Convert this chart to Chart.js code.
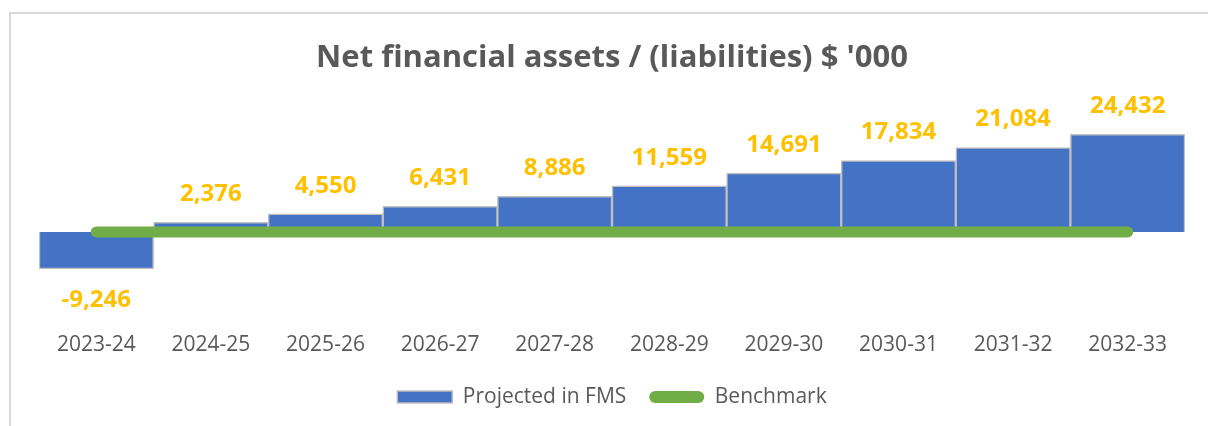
<!DOCTYPE html>
<html>
<head>
<meta charset="utf-8">
<script src="https://cdn.jsdelivr.net/npm/chart.js@4"></script>
<style>
  html, body { margin: 0; padding: 0; background: #fff; }
  #wrap { position: relative; width: 1208px; height: 426px; overflow: hidden; }
  #frame { position: absolute; left: 9px; top: 12px; width: 1300px; height: 500px; border: 2px solid #d9d9d9; pointer-events: none; }
</style>
</head>
<body>
<div id="wrap">
  <canvas id="myChart" width="1208" height="426"></canvas>
  <div id="frame"></div>
</div>
<script>
const years = ["2023-24", "2024-25", "2025-26", "2026-27", "2027-28", "2028-29", "2029-30", "2030-31", "2031-32", "2032-33"];
const projected = [-9246, 2376, 4550, 6431, 8886, 11559, 14691, 17834, 21084, 24432];
const benchmark = [0, 0, 0, 0, 0, 0, 0, 0, 0, 0];

const greyText = "#595959";
const gold = "#FFC000";

// value labels above / below the bars
const barLabels = {
  id: "barLabels",
  afterDatasetsDraw(chart) {
    const ctx = chart.ctx;
    const meta = chart.getDatasetMeta(0);
    ctx.save();
    ctx.font = "bold 24px 'Open Sans'";
    ctx.fillStyle = gold;
    ctx.textAlign = "center";
    ctx.textBaseline = "middle";
    meta.data.forEach((bar, i) => {
      const v = projected[i];
      const y = v < 0 ? bar.y + 31 : bar.y - 28;
      ctx.fillText(v.toLocaleString("en-US"), bar.x, y);
    });
    ctx.restore();
  }
};

const ctx = document.getElementById("myChart").getContext("2d");
const chart = new Chart(ctx, {
  type: "bar",
  data: {
    labels: years,
    datasets: [
      {
        label: "Projected in FMS",
        data: projected,
        backgroundColor: "#4472C4",
        borderColor: "#BFBFBF",
        borderWidth: 1.5,
        categoryPercentage: 1,
        barPercentage: 1,
        order: 1,
      },
      {
        type: "line",
        label: "Benchmark",
        data: benchmark,
        borderColor: "#70AD47",
        backgroundColor: "#70AD47",
        borderWidth: 11,
        borderCapStyle: "round",
        pointRadius: 0,
        order: 0, // draw on top of the bars
      },
    ],
  },
  options: {
    responsive: false,
    animation: false,
    layout: { padding: { left: 39, right: 23, top: 20, bottom: 8.5 } },
    plugins: {
      title: {
        display: true,
        text: "Net financial assets / (liabilities) $ '000",
        color: greyText,
        font: { family: "'Open Sans'", size: 31, weight: "bold" },
        padding: { top: 19.4, bottom: 8 },
      },
      legend: {
        position: "bottom",
        labels: {
          color: greyText,
          font: { family: "'Open Sans'", size: 21 },
          boxWidth: 55,
          boxHeight: 12,
          padding: 23,
          useBorderRadius: true,
          sort: (a, b) => a.datasetIndex - b.datasetIndex,
          generateLabels(chart) {
            const items = Chart.defaults.plugins.legend.labels.generateLabels(chart);
            items.forEach((it) => {
              if (it.datasetIndex === 1) {
                it.lineWidth = 0;
                it.fillStyle = "#70AD47";
                it.borderRadius = 6;
              } else {
                it.lineWidth = 1.5;
                it.borderRadius = 0;
              }
            });
            return items;
          },
        },
      },
      tooltip: { enabled: false },
    },
    scales: {
      x: {
        offset: true,
        grid: { display: false, drawTicks: false },
        border: { display: false },
        ticks: { color: greyText, font: { family: "'Open Sans'", size: 21 }, padding: 3 },
        afterFit(scale) {
          scale.height += 3; // gap above the legend
        },
      },
      y: {
        display: false,
        min: -24350,
        max: 36850,
      },
    },
  },
  plugins: [barLabels],
});
</script>
</body>
</html>
